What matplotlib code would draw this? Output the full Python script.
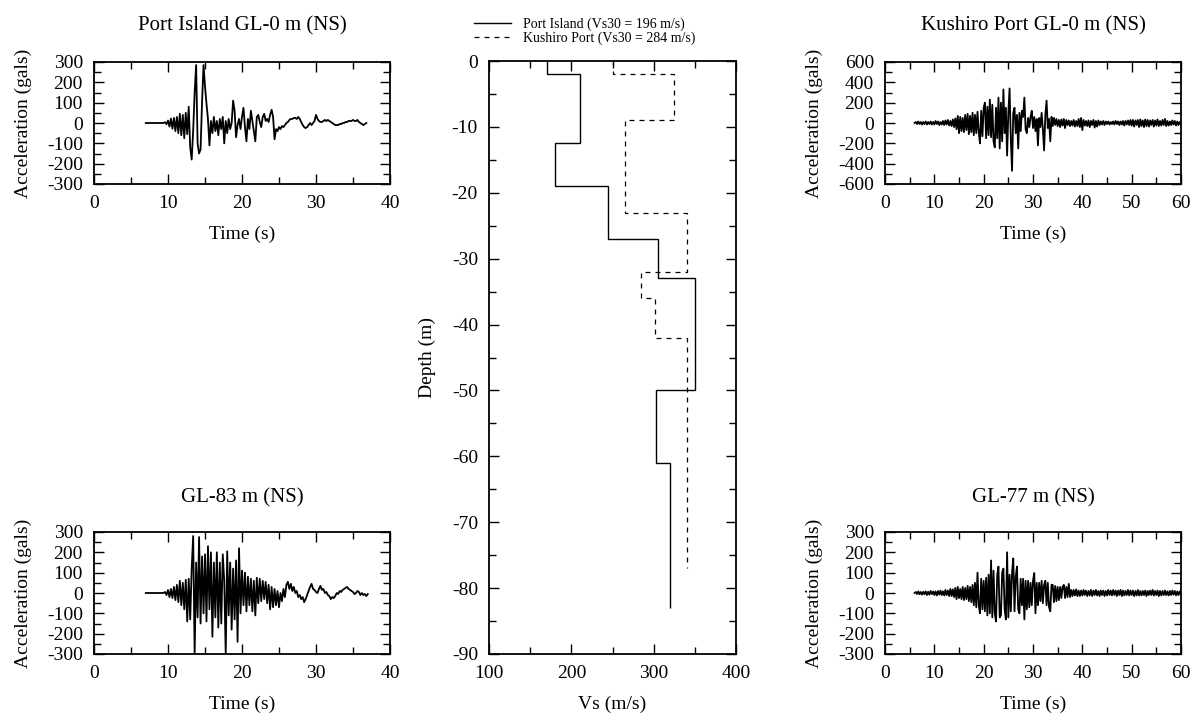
# -*- coding: utf-8 -*- #
import numpy as np
from matplotlib import pyplot
from matplotlib.ticker import MultipleLocator

# Port Island, GL-0 m (NS), sampled every 0.2 s from 7.0 s
pi_top_t0 = 7.0
pi_top_dt = 0.2
pi_top_acc = [
    0, 0, 0, 0, 0, 0, 0, 0, 0, 0,
    0, 0, 0, 4, -6, 12, -18, 22, -28, 25,
    -40, 30, -50, 45, -60, 40, -75, 50, -55, 80,
    -120, -180, -40, 150, 285, -100, -150, -130, 100, 285,
    180, 95, 20, -110, 10, -50, 30, -40, 10, -60,
    20, -30, 30, -100, 10, -50, 20, -30, 0, 110,
    60, -70, -10, 20, -30, 30, 75, -20, -90, 20,
    -30, 60, 10, -40, -90, 30, 40, 5, -20, 30,
    45, 10, 20, 5, 40, 65, 30, -80, -30, -40,
    -20, -30, -15, -20, -10, 0, 5, 15, 20, 20,
    25, 25, 20, 30, 20, 5, -10, -20, -25, -20,
    -10, 0, -10, 0, 10, 40, 20, 10, 5, 5,
    10, 15, 10, 15, 10, 5, 0, -5, -10, -10,
    -10, -5, -5, 0, 0, 5, 5, 10, 10, 10,
    15, 10, 10, 15, 5, 0, -5, -10, -5, 0,
]

# Port Island, GL-83 m (NS), sampled every 0.2 s from 7.0 s
pi_bot_t0 = 7.0
pi_bot_dt = 0.2
pi_bot_acc = [
    0, 0, 0, 0, 0, 0, 0, 0, 0, 0,
    0, 0, 0, 5, -10, 15, -20, 20, -25, 30,
    -35, 40, -45, 60, -60, 50, -80, 65, -140, 70,
    -130, 120, 280, -300, 150, -120, 275, -150, 180, -100,
    190, -140, 230, -80, 200, -215, 150, -120, 200, -170,
    150, -150, 190, 60, -300, 205, -110, 150, -180, 120,
    -130, 160, -240, 220, -100, 110, -60, 100, -90, 80,
    -60, 70, -90, 60, -110, 75, -50, 70, -40, 60,
    -30, 55, -50, 40, -80, 30, -70, 20, -60, 10,
    -70, 0, -40, 20, -20, 40, 55, 20, 45, 10,
    30, 0, 10, -20, -10, -30, -20, -45, -30, -10,
    10, 30, 45, 20, 15, 5, 0, 20, 35, 15,
    20, 0, 5, -10, -15, -30, -20, -25, -15, 0,
    -5, 10, 5, 15, 20, 25, 30, 20, 15, 10,
    5, -5, 0, 10, 5, -10, 0, -10, -5, -15,
    -5,
]

# Kushiro Port, GL-0 m (NS), sampled every 0.25 s from 6.0 s
ku_top_t0 = 6.0
ku_top_dt = 0.25
ku_top_acc = [
    0, 10, -10, 15, -10, 10, -15, 10,
    -10, 15, -15, 10, -10, 15, -15, 10,
    -15, 20, -10, 15, -20, 10, -15, 20,
    -20, 25, -15, 30, -25, 20, -30, 35,
    -40, 45, -60, 70, -100, 60, -80, 50,
    -90, 80, -70, 90, -110, 70, -90, 100,
    -120, 80, -100, 110, -90, -200, 120, -130,
    150, 200, -150, 160, -120, 230, -140, 180,
    -180, -240, 150, -150, 250, -250, 200, -180,
    330, -100, 150, -320, 100, 340, -150, -470,
    100, 150, -100, 80, -250, 100, -80, 120,
    60, 250, -60, -100, 50, -40, 60, 120,
    -50, 60, -80, 40, -220, 50, -40, 100,
    -60, -270, 80, 220, -50, 40, -180, 60,
    -30, 50, -20, 40, -30, 30, -40, 35,
    -25, 40, -50, 30, -20, 25, -30, 20,
    -25, 30, -35, 20, -30, 40, -40, 50,
    -70, 30, -25, 20, -30, 25, -40, 20,
    -20, 30, -45, 20, -35, 25, -20, 15,
    -15, 20, -20, 15, -10, 15, -15, 10,
    -10, 15, -15, 20, -10, 15, -20, 15,
    -15, 20, -25, 20, -15, 25, -20, 30,
    -25, 30, -35, 25, -20, 30, -40, 35,
    -30, 25, -40, 35, -30, 30, -35, 25,
    -20, 30, -35, 25, -25, 35, -30, 20,
    -25, 30, -20, 40, -30, 20, -25, 15,
    -20, 25, -15, 20, -25, 15, -20, 10,
    0,
]

# Kushiro Port, GL-77 m (NS), sampled every 0.25 s from 6.0 s
ku_bot_t0 = 6.0
ku_bot_dt = 0.25
ku_bot_acc = [
    0, 5, -5, 8, -6, 5, -8, 6,
    -6, 8, -10, 6, -8, 10, -6, 8,
    -10, 8, -12, 10, -8, 12, -10, 8,
    -12, 15, -10, 12, -15, 20, -15, 18,
    -20, 25, -30, 30, -25, 20, -30, 30,
    -35, 25, -30, 35, -40, 30, -45, 40,
    -60, 50, -70, 100, -60, -100, 70, -80,
    60, -90, 75, -110, 90, -100, 160, -120,
    110, -100, -140, 90, 130, -120, -110, 100,
    120, -80, -130, 200, -120, 90, -90, 100,
    170, -90, 80, 130, -80, -100, 70, -60,
    70, -130, 60, -80, 60, -70, 50, -60,
    60, 98, -100, 50, -60, 50, -40, 60,
    -50, 40, 60, -60, 50, -70, -90, 40,
    40, -45, 35, -40, 30, -35, 30, -25,
    30, 40, -25, 30, -20, 45, -20, 15,
    -15, 15, -12, 18, -15, 12, -15, 12,
    -12, 15, -10, 12, -15, 10, -12, 15,
    -15, 12, -10, 15, -12, 10, -15, 12,
    -10, 12, -15, 10, -12, 15, -10, 12,
    -12, 15, -10, 12, -15, 12, -10, 15,
    -15, 12, -12, 10, -10, 15, -12, 12,
    -10, 12, -15, 10, -12, 15, -12, 10,
    -12, 10, -10, 12, -15, 10, -10, 12,
    -10, 15, -12, 10, -10, 12, -15, 10,
    -12, 10, -10, 12, -10, 8, -12, 10,
    -10, 12, -8, 10, -12, 8, -10, 8,
    0,
]

# Vs profiles: layer boundaries (m) and layer velocities (m/s)
pi_depth = [0, -2, -12.5, -19, -27, -33, -50, -61, -83]
pi_vs = [170, 210, 180, 245, 305, 350, 303, 320]
ku_depth = [0, -2, -9, -23, -32, -36, -42, -77]
ku_vs = [250, 325, 265, 340, 285, 302, 340]

pi_label = "Port Island (Vs30 = 196 m/s)"
ku_label = "Kushiro Port (Vs30 = 284 m/s)"

W, H = 1196, 715


def box(left, top, right, bottom):
    return [left / W, 1 - bottom / H, (right - left) / W, (bottom - top) / H]


def style(ax, xmaj, xmin, ymaj, ymin):
    ax.xaxis.set_major_locator(MultipleLocator(xmaj))
    ax.xaxis.set_minor_locator(MultipleLocator(xmin))
    ax.yaxis.set_major_locator(MultipleLocator(ymaj))
    ax.yaxis.set_minor_locator(MultipleLocator(ymin))
    ax.tick_params(which="both", direction="in", top=True, right=True, width=1.0, pad=8)
    ax.tick_params(which="major", length=7)
    ax.tick_params(which="minor", length=5)
    for s in ax.spines.values():
        s.set_linewidth(1.3)


def plot_wave(fig, rect, title, t0, dt, acc, xmax, ylim, ymaj, ymin, pad):
    ax = fig.add_axes(rect)
    t = t0 + dt * np.arange(len(acc))
    ax.plot(np.r_[t0, t], np.r_[0, acc], color="black", lw=1.3)
    ax.set_xlim(0, xmax)
    ax.set_ylim(-ylim, ylim)
    style(ax, 10, 5, ymaj, ymin)
    ax.set_title(title, pad=pad, fontsize=15)
    ax.set_xlabel("Time (s)", labelpad=10)
    ax.set_ylabel("Acceleration (gals)", labelpad=11)
    return ax


def plot_profile(fig, rect):
    ax = fig.add_axes(rect)
    ax.stairs(pi_vs, pi_depth, orientation="horizontal", baseline=None,
              color="black", lw=1.0, label=pi_label)
    ax.stairs(ku_vs, ku_depth, orientation="horizontal", baseline=None,
              color="black", lw=0.9, linestyle=(0, (4, 4)), label=ku_label)
    ax.set_xlim(100, 400)
    ax.set_ylim(-90, 0)
    style(ax, 100, 50, 10, 5)
    ax.set_xlabel("Vs (m/s)", labelpad=10)
    ax.set_ylabel("Depth (m)", labelpad=11)
    ax.legend(loc="upper left", bbox_to_anchor=(467 / W, 1 - 11 / H),
              bbox_transform=fig.transFigure, frameon=False, fontsize=10,
              borderpad=0, handlelength=2.7, handletextpad=0.85, labelspacing=0.0)
    return ax


def main():
    pyplot.rcParams["font.family"] = ["Liberation Serif", "DejaVu Serif"]
    pyplot.rcParams["font.size"] = 14
    pyplot.rcParams["axes.unicode_minus"] = False
    fig = pyplot.figure(figsize=[W / 100, H / 100], dpi=100)

    plot_wave(fig, box(94, 62, 390, 184), "Port Island GL-0 m (NS)",
              pi_top_t0, pi_top_dt, pi_top_acc, 40, 300, 100, 50, 22.5)
    plot_wave(fig, box(94, 532, 390, 654), "GL-83 m (NS)",
              pi_bot_t0, pi_bot_dt, pi_bot_acc, 40, 300, 100, 50, 21.5)
    plot_wave(fig, box(885, 62, 1181, 184), "Kushiro Port GL-0 m (NS)",
              ku_top_t0, ku_top_dt, ku_top_acc, 60, 600, 200, 100, 22.5)
    plot_wave(fig, box(885, 532, 1181, 654), "GL-77 m (NS)",
              ku_bot_t0, ku_bot_dt, ku_bot_acc, 60, 300, 100, 50, 21.5)
    plot_profile(fig, box(489, 61, 736, 654))

    fig.savefig("out.png", dpi=100)


if __name__ == '__main__':
    main()
